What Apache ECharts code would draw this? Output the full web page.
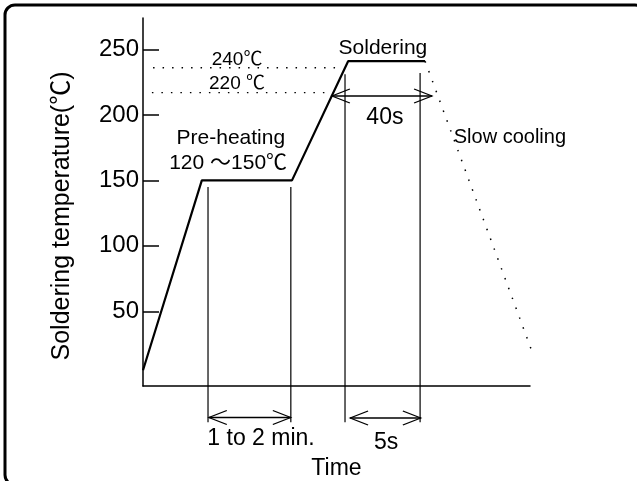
<!DOCTYPE html>
<html>
<head>
<meta charset="utf-8">
<script src="https://cdn.jsdelivr.net/npm/echarts@6.0.0/dist/echarts.min.js"></script>
<style>
  html, body { margin: 0; padding: 0; background: #fff; }
  #main { width: 637px; height: 481px; }
</style>
</head>
<body>
<div id="main"></div>
<script>
  // reflow profile (time is schematic, 0..100 along the axis)
  var profileTime = [0, 15.2, 38.5, 53, 72.9];
  var profileTemp = [5, 150, 150, 241, 241];
  var coolTime = [72.9, 101.8];
  var coolTemp = [241, 9];

  // dotted reference levels (240 / 220)
  var refTemp = [236, 217];
  var refFrom = [2.6, 2.3];
  var refTo = [51.7, 48.3];

  // vertical guide lines
  var guideTime = [16.8, 38.2, 52.2, 71.6];
  var guideTop = [145, 145, 231, 232];
  var guideBottom = -34.7;

  // double arrows: 40s, 1 to 2 min., 5s
  var arrowFrom = [48.8, 17, 53.5];
  var arrowTo = [74.7, 38.2, 71.8];
  var arrowTemp = [214.5, -31, -31.5];

  // y ticks
  var tickValues = [50, 100, 150, 200, 250];

  // notes
  var noteText = ['240℃', '220 ℃', 'Soldering', 'Pre-heating', '120 ～150℃', '40s', 'Slow cooling', '1 to 2 min.', '5s'];
  var noteTime = [24.3, 24.3, 62, 22.7, 22, 62.5, 94.8, 30.5, 62.8];
  var noteTemp = [242, 223.7, 251, 182.3, 163.3, 197.6, 183, -47, -50];

  var FONT = '"Liberation Sans", "Noto Sans CJK SC", sans-serif';
  var noteSize = { '240℃': 19, '220 ℃': 19, 'Soldering': 21, 'Pre-heating': 21, '120 ～150℃': 21,
                   '40s': 23, 'Slow cooling': 20, '1 to 2 min.': 23, '5s': 23 };

  var leftHead = 'path://M18,0 L0,7 L18,14';
  var rightHead = 'path://M0,0 L18,7 L0,14';

  var chart = echarts.init(document.getElementById('main'));

  var series = [];
  series.push({
    type: 'line', clip: false, symbol: 'none',
    data: profileTime.map(function (t, i) { return [t, profileTemp[i]]; }),
    lineStyle: { color: '#000', width: 2.2 }
  });
  series.push({
    type: 'line', clip: false, symbol: 'none',
    data: coolTime.map(function (t, i) { return [t, coolTemp[i]]; }),
    lineStyle: { color: '#000', width: 1.5, type: [1.5, 9] }
  });
  refTemp.forEach(function (v, i) {
    series.push({
      type: 'line', clip: false, symbol: 'none',
      data: [[refFrom[i], v], [refTo[i], v]],
      lineStyle: { color: '#000', width: 1.3, type: [1.5, 8] }
    });
  });
  guideTime.forEach(function (t, i) {
    series.push({
      type: 'line', clip: false, symbol: 'none',
      data: [[t, guideTop[i]], [t, guideBottom]],
      lineStyle: { color: '#000', width: 1.2 }
    });
  });
  arrowTemp.forEach(function (v, i) {
    series.push({
      type: 'line', clip: false, showSymbol: true,
      data: [
        { value: [arrowFrom[i], v], symbol: leftHead, symbolSize: [18, 14], symbolOffset: [9, 0] },
        { value: [arrowTo[i], v], symbol: rightHead, symbolSize: [18, 14], symbolOffset: [-9, 0] }
      ],
      itemStyle: { color: 'none', borderColor: '#000', borderWidth: 1.2 },
      lineStyle: { color: '#000', width: 1.5 }
    });
  });
  series.push({
    type: 'scatter', clip: false, symbolSize: 0,
    itemStyle: { opacity: 1 },
    data: noteText.map(function (s, i) {
      return {
        name: s, value: [noteTime[i], noteTemp[i]],
        label: { fontSize: noteSize[s] }
      };
    }),
    label: {
      show: true, position: 'inside', color: '#000', fontFamily: FONT,
      formatter: function (p) { return p.name; }
    }
  });

  chart.setOption({
    animation: false,
    backgroundColor: '#fff',
    grid: { left: 143, top: 18, width: 387, height: 368, outerBoundsMode: 'none' },
    xAxis: {
      type: 'value', min: 0, max: 100,
      name: 'Time', nameLocation: 'middle', nameGap: 71,
      nameTextStyle: { color: '#000', fontSize: 23, fontFamily: FONT },
      axisLine: { onZero: false, lineStyle: { color: '#000', width: 1.5 } },
      axisTick: { show: false }, axisLabel: { show: false }, splitLine: { show: false }
    },
    yAxis: {
      type: 'value', min: -7, max: 274,
      name: 'Soldering temperature(℃)', nameLocation: 'middle', nameGap: 68,
      nameTextStyle: { color: '#000', fontSize: 25, fontFamily: FONT, padding: [0, 28, 0, 0] },
      axisLine: { show: true, onZero: false, lineStyle: { color: '#000', width: 1.5 } },
      axisTick: { show: true, inside: true, length: 16, customValues: tickValues, lineStyle: { color: '#000', width: 1.5 } },
      axisLabel: { customValues: tickValues, margin: 4, color: '#000', fontSize: 24, fontFamily: FONT },
      splitLine: { show: false }
    },
    graphic: [{
      type: 'rect',
      shape: { x: 5, y: 5, width: 640, height: 480, r: 10 },
      style: { fill: 'none', stroke: '#000', lineWidth: 3 },
      silent: true
    }],
    series: series
  });
</script>
</body>
</html>
